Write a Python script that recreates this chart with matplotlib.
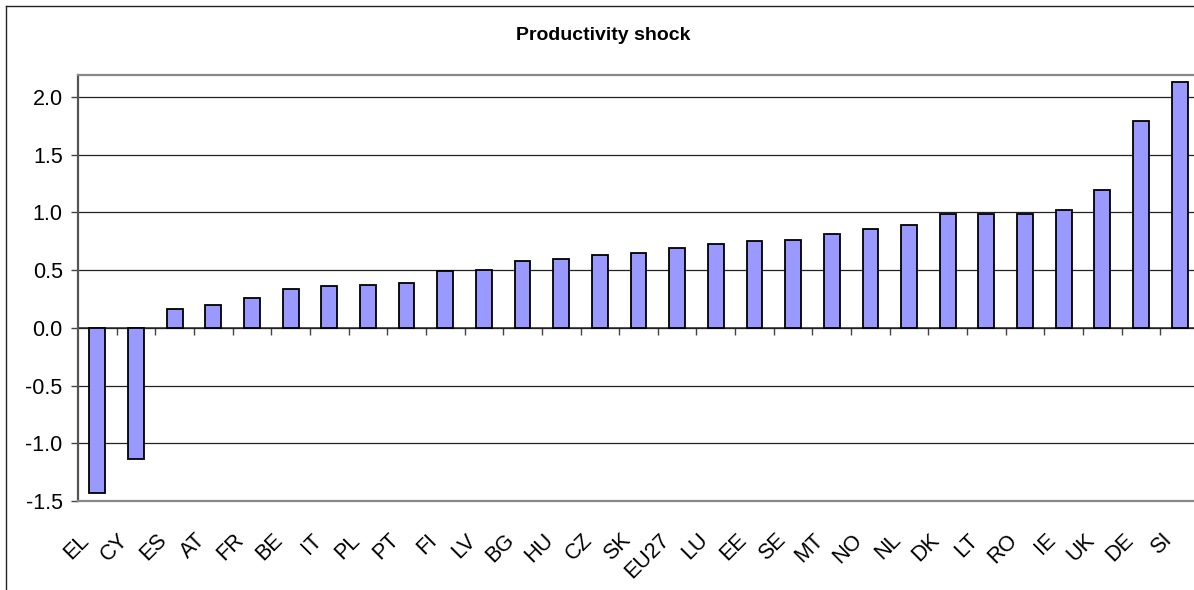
"""
Productivity shock by country, bar chart.
"""
import matplotlib.pyplot as plt
from matplotlib.lines import Line2D
from matplotlib.transforms import ScaledTranslation

plt.rcParams["font.family"] = ["Liberation Sans", "DejaVu Sans"]

COUNTRIES = ["EL", "CY", "ES", "AT", "FR", "BE", "IT", "PL", "PT", "FI",
             "LV", "BG", "HU", "CZ", "SK", "EU27", "LU", "EE", "SE", "MT",
             "NO", "NL", "DK", "LT", "RO", "IE", "UK", "DE", "SI"]
SHOCK = [-1.43, -1.14, 0.165, 0.20, 0.26, 0.34, 0.36, 0.37, 0.39, 0.49,
         0.50, 0.58, 0.60, 0.63, 0.65, 0.695, 0.73, 0.75, 0.76, 0.81,
         0.86, 0.89, 0.99, 0.99, 0.99, 1.02, 1.195, 1.79, 2.13]
Y_TICKS = [-1.5, -1.0, -0.5, 0.0, 0.5, 1.0, 1.5, 2.0]


def main() -> None:
    W, H = 1194, 590
    fig = plt.figure(figsize=(W / 100, H / 100), dpi=100)
    left, right, top, bottom = 78, 1199, 75, 501
    ax = fig.add_axes([left / W, 1 - bottom / H, (right - left) / W, (bottom - top) / H])

    x = list(range(len(COUNTRIES)))
    ax.bar(x, SHOCK, width=0.41, color="#9999FF", edgecolor="black",
           linewidth=1.3, zorder=3)

    ax.set_xlim(-0.5, len(COUNTRIES) - 0.5)
    ax.set_ylim(-1.5, 2.19)
    ax.set_yticks(Y_TICKS)
    ax.set_yticklabels([f"{v:.1f}" for v in Y_TICKS])
    ax.yaxis.grid(True, color="#222222", linewidth=0.9, zorder=0)
    ax.set_axisbelow(True)

    ax.tick_params(axis="y", direction="out", length=5, width=1,
                   color="#444444", pad=6, labelsize=15.5)
    ax.set_xticks(x)
    ax.set_xticklabels(COUNTRIES, fontsize=15.5)
    ax.tick_params(axis="x", length=0, pad=26)
    shift = ScaledTranslation(-0.11, 0, fig.dpi_scale_trans)
    for lab in ax.get_xticklabels():
        lab.set_rotation(45)
        lab.set_ha("right")
        lab.set_va("center")
        lab.set_rotation_mode("anchor")
        lab.set_transform(lab.get_transform() + shift)

    for side in ["top", "bottom"]:
        ax.spines[side].set_color("#888888")
        ax.spines[side].set_linewidth(1.6)
    ax.spines["left"].set_color("#555555")
    ax.spines["left"].set_linewidth(1.6)
    ax.spines["right"].set_visible(False)

    # category axis line at zero with boundary tick marks
    zero_loc = (0 - (-1.5)) / (2.19 - (-1.5))
    sec = ax.secondary_xaxis(zero_loc)
    sec.set_xticks([i + 0.5 for i in range(len(COUNTRIES) - 1)])
    sec.set_xticklabels([])
    sec.tick_params(direction="out", length=5, width=1, color="#444444")
    sec.spines["bottom"].set_color("#555555")
    sec.spines["bottom"].set_linewidth(1.4)

    fig.text(603 / W, 1 - 35 / H, "Productivity shock", ha="center",
             va="center", fontsize=14, fontweight="bold")

    # chart border (cut off at right and bottom)
    fig.add_artist(Line2D([6 / W, 6 / W], [0, 1 - 6 / H], transform=fig.transFigure,
                          color="#222222", linewidth=1))
    fig.add_artist(Line2D([6 / W, 1], [1 - 6 / H, 1 - 6 / H], transform=fig.transFigure,
                          color="#222222", linewidth=1))

    fig.savefig("out.png", dpi=100)
    plt.close(fig)


if __name__ == "__main__":
    main()
